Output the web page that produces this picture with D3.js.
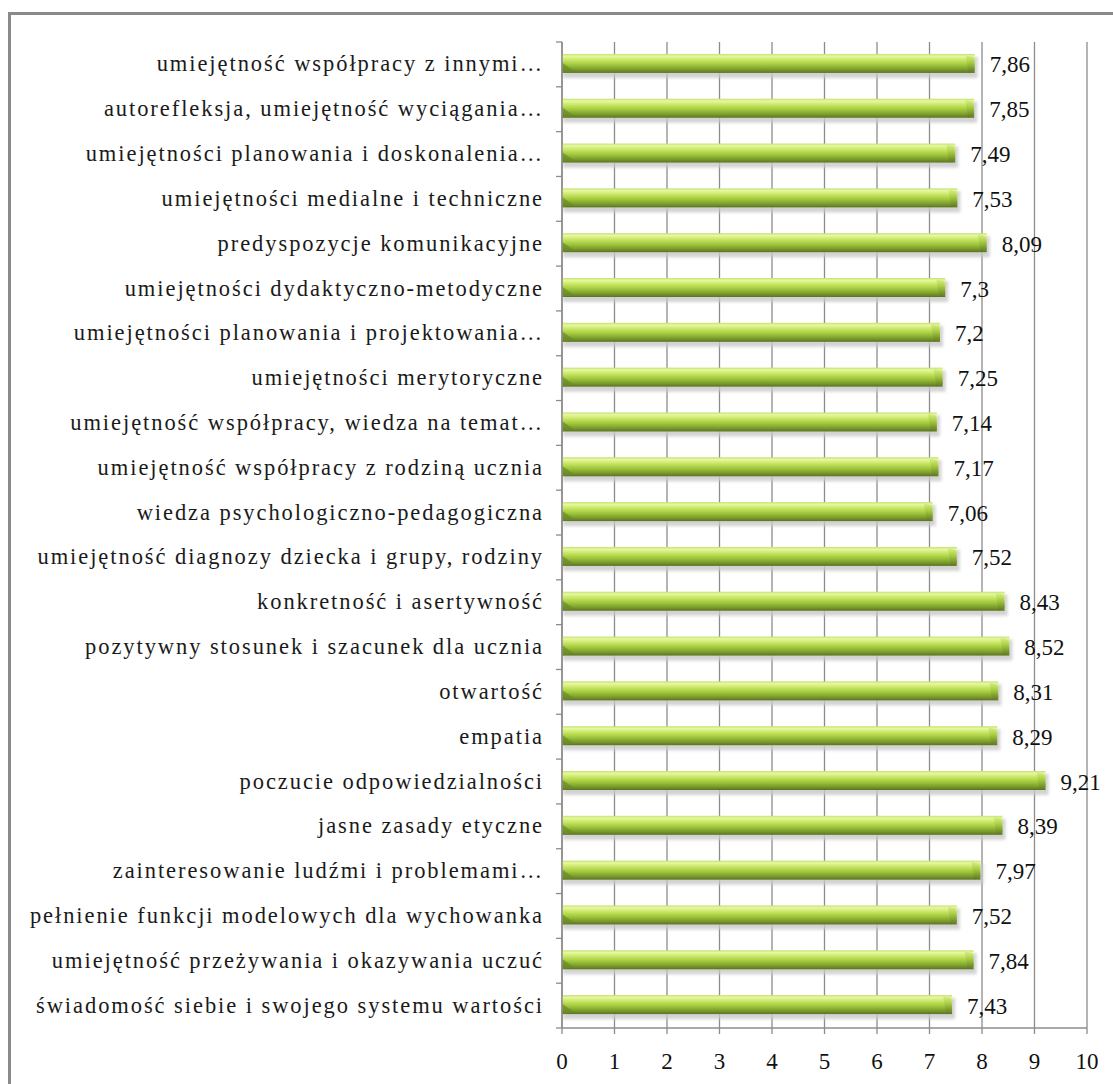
<!DOCTYPE html>
<html>
<head>
<meta charset="utf-8">
<script src="https://cdn.jsdelivr.net/npm/d3@7"></script>
<style>
  body { margin: 0; background: #fff; }
  svg { display: block; }
</style>
</head>
<body>
<div id="chart"></div>
<script>
// categories top -> bottom, as shown
const categories = [
  "umiejętność współpracy z innymi…",
  "autorefleksja, umiejętność wyciągania…",
  "umiejętności planowania i doskonalenia…",
  "umiejętności medialne i techniczne",
  "predyspozycje komunikacyjne",
  "umiejętności dydaktyczno-metodyczne",
  "umiejętności planowania i projektowania…",
  "umiejętności merytoryczne",
  "umiejętność współpracy, wiedza na temat…",
  "umiejętność współpracy z rodziną ucznia",
  "wiedza psychologiczno-pedagogiczna",
  "umiejętność diagnozy dziecka i grupy, rodziny",
  "konkretność i asertywność",
  "pozytywny stosunek i szacunek dla ucznia",
  "otwartość",
  "empatia",
  "poczucie odpowiedzialności",
  "jasne zasady etyczne",
  "zainteresowanie ludźmi i problemami…",
  "pełnienie funkcji modelowych dla wychowanka",
  "umiejętność przeżywania i okazywania uczuć",
  "świadomość siebie i swojego systemu wartości"
];
const values = [7.86, 7.85, 7.49, 7.53, 8.09, 7.3, 7.2, 7.25, 7.14, 7.17, 7.06,
  7.52, 8.43, 8.52, 8.31, 8.29, 9.21, 8.39, 7.97, 7.52, 7.84, 7.43];
const xTicks = [0, 1, 2, 3, 4, 5, 6, 7, 8, 9, 10];

const W = 1113, H = 1084;
const margin = { top: 42, right: 26, bottom: 56, left: 562 };
const rows = categories.map((c, i) => ({ cat: c, val: values[i] }));

const svg = d3.select("#chart").append("svg").attr("width", W).attr("height", H);

// outer frame (cut off on right and bottom)
svg.append("rect")
  .attr("x", 9.5).attr("y", 13.5)
  .attr("width", W + 20).attr("height", H + 20)
  .attr("fill", "none").attr("stroke", "#8a8a8a").attr("stroke-width", 3);

const x = d3.scaleLinear().domain([0, 10]).range([margin.left, 1087]);
const y = d3.scaleBand().domain(categories).range([margin.top, 1028]).paddingInner(0).paddingOuter(0);

const defs = svg.append("defs");
const grad = defs.append("linearGradient").attr("id", "barGrad")
  .attr("x1", 0).attr("y1", 0).attr("x2", 0).attr("y2", 1);
[[0, "#c7e06c"], [0.12, "#e6f8a2"], [0.35, "#c4e45e"], [0.6, "#9dc43a"], [0.85, "#76962b"], [1, "#5a7320"]]
  .forEach(([o, c]) => grad.append("stop").attr("offset", o).attr("stop-color", c));
const capGrad = defs.append("linearGradient").attr("id", "capGrad")
  .attr("x1", 0).attr("y1", 0).attr("x2", 0).attr("y2", 1);
[[0, "#d6ef86"], [0.4, "#a8cc44"], [1, "#5a741f"]]
  .forEach(([o, c]) => capGrad.append("stop").attr("offset", o).attr("stop-color", c));
const blur = defs.append("filter").attr("id", "shadow").attr("x", "-5%").attr("y", "-50%").attr("width", "110%").attr("height", "200%");
blur.append("feGaussianBlur").attr("stdDeviation", 1.6);

// gridlines
svg.append("g").selectAll("line").data(xTicks).join("line")
  .attr("x1", d => x(d)).attr("x2", d => x(d))
  .attr("y1", margin.top).attr("y2", 1028)
  .attr("stroke", "#8c8c8c").attr("stroke-width", 1.3);

const barH = 19;
const g = svg.append("g");
const bar = g.selectAll("g").data(rows).join("g")
  .attr("transform", d => `translate(0,${y(d.cat) + y.bandwidth() / 2 - barH / 2 - 1})`);

// soft shadow below/around bar
bar.append("rect")
  .attr("x", x(0) + 1).attr("y", 3)
  .attr("width", d => x(d.val) - x(0) + 2).attr("height", barH + 2)
  .attr("fill", "#c8c8c8").attr("opacity", 0.8).attr("filter", "url(#shadow)");

bar.append("rect")
  .attr("x", x(0)).attr("y", 0)
  .attr("width", d => x(d.val) - x(0)).attr("height", barH)
  .attr("fill", "url(#barGrad)");

// end cap bevel
bar.append("path")
  .attr("d", d => {
    const e = x(d.val);
    return `M${e - 9},${1} L${e - 1},${3} L${e},${barH - 3} L${e - 6},${barH} Z`;
  })
  .attr("fill", "url(#capGrad)").attr("opacity", 0.85);

// left bevel
bar.append("path")
  .attr("d", `M${x(0)},${barH * 0.45} L${x(0) + 12},${barH - 2} L${x(0)},${barH} Z`)
  .attr("fill", "#6a8a25").attr("opacity", 0.7);

// y axis line + category ticks
svg.append("line")
  .attr("x1", x(0)).attr("x2", x(0)).attr("y1", margin.top).attr("y2", 1028)
  .attr("stroke", "#8c8c8c").attr("stroke-width", 1.5);
svg.append("g").selectAll("line").data(d3.range(categories.length + 1)).join("line")
  .attr("x1", x(0) - 6).attr("x2", x(0))
  .attr("y1", i => margin.top + i * y.step()).attr("y2", i => margin.top + i * y.step())
  .attr("stroke", "#8c8c8c").attr("stroke-width", 1.3);

// x axis line + ticks
svg.append("line")
  .attr("x1", x(0)).attr("x2", x(10)).attr("y1", 1028).attr("y2", 1028)
  .attr("stroke", "#8c8c8c").attr("stroke-width", 1.5);
svg.append("g").selectAll("line").data(xTicks).join("line")
  .attr("x1", d => x(d)).attr("x2", d => x(d)).attr("y1", 1028).attr("y2", 1034)
  .attr("stroke", "#8c8c8c").attr("stroke-width", 1.3);

const font = "'Liberation Serif', 'DejaVu Serif', serif";

svg.append("g").selectAll("text").data(xTicks).join("text")
  .attr("x", d => x(d)).attr("y", 1069)
  .attr("text-anchor", "middle")
  .attr("font-family", font).attr("font-size", 23).attr("fill", "#111")
  .text(d => d);

// category labels; spread letters so the longest label spans like the original (~508px)
const labels = svg.append("g").selectAll("text").data(rows).join("text")
  .attr("x", 544).attr("y", d => y(d.cat) + y.bandwidth() / 2 + 7)
  .attr("text-anchor", "end")
  .attr("font-family", font).attr("font-size", 22.5).attr("fill", "#1a1a1a")
  .text(d => d.cat);
const refNode = labels.filter(d => d.cat.startsWith("świadomość")).node();
const refW = refNode.getComputedTextLength();
const spacing = Math.max(0, (508 - refW) / refNode.textContent.length);
labels.style("letter-spacing", spacing + "px");

// value labels
svg.append("g").selectAll("text").data(rows).join("text")
  .attr("x", d => x(d.val) + 15).attr("y", d => y(d.cat) + y.bandwidth() / 2 + 8)
  .attr("font-family", font).attr("font-size", 23).attr("fill", "#111")
  .text(d => String(d.val).replace(".", ","));
</script>
</body>
</html>
